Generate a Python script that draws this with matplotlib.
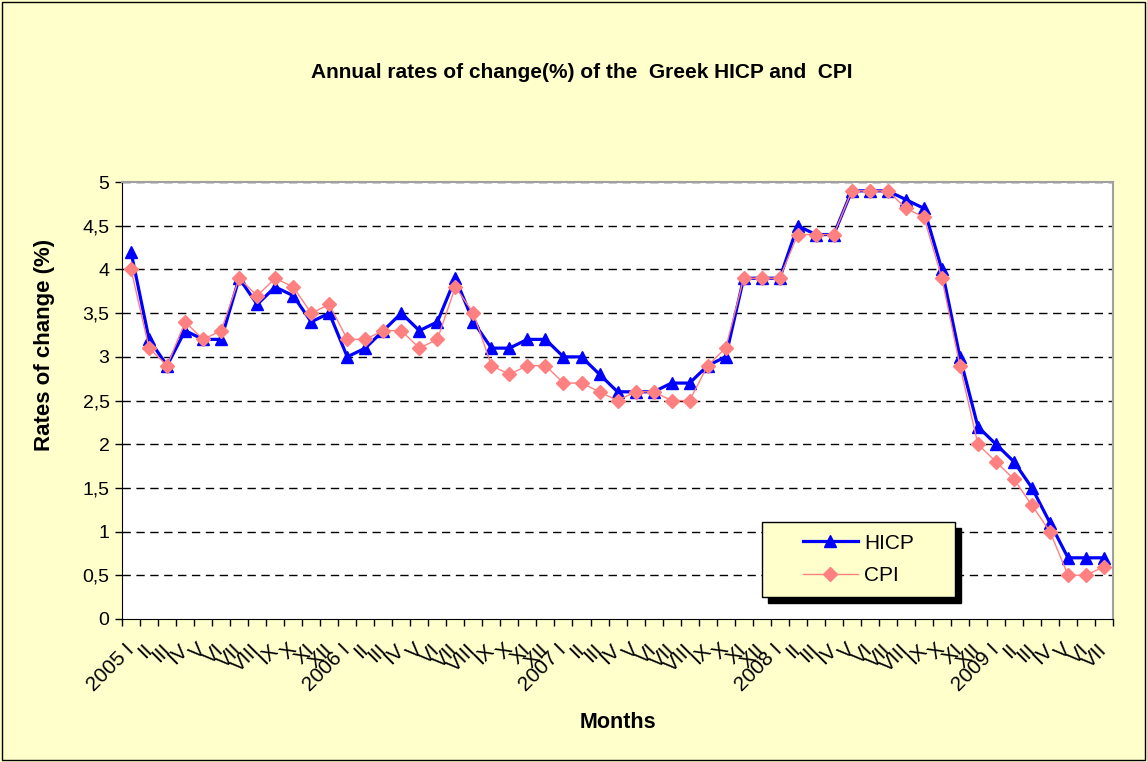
import matplotlib.pyplot as plt
import numpy as np
from matplotlib.patches import Rectangle

plt.rcParams['font.family'] = ['Liberation Sans', 'DejaVu Sans']

# months 2005 I .. 2009 VII
years = [2005, 2006, 2007, 2008, 2009]
roman = ["I", "II", "III", "IV", "V", "VI", "VII", "VIII", "IX", "X", "XI", "XII"]
month_labels = []
for y in years:
    for k, r in enumerate(roman):
        if y == 2009 and k > 6:
            break
        month_labels.append(f"{y} {r}" if k == 0 else r)

hicp = [4.2, 3.2, 2.9, 3.3, 3.2, 3.2, 3.9, 3.6, 3.8, 3.7, 3.4, 3.5,
        3.0, 3.1, 3.3, 3.5, 3.3, 3.4, 3.9, 3.4, 3.1, 3.1, 3.2, 3.2,
        3.0, 3.0, 2.8, 2.6, 2.6, 2.6, 2.7, 2.7, 2.9, 3.0, 3.9, 3.9,
        3.9, 4.5, 4.4, 4.4, 4.9, 4.9, 4.9, 4.8, 4.7, 4.0, 3.0, 2.2,
        2.0, 1.8, 1.5, 1.1, 0.7, 0.7, 0.7]
cpi = [4.0, 3.1, 2.9, 3.4, 3.2, 3.3, 3.9, 3.7, 3.9, 3.8, 3.5, 3.6,
       3.2, 3.2, 3.3, 3.3, 3.1, 3.2, 3.8, 3.5, 2.9, 2.8, 2.9, 2.9,
       2.7, 2.7, 2.6, 2.5, 2.6, 2.6, 2.5, 2.5, 2.9, 3.1, 3.9, 3.9,
       3.9, 4.4, 4.4, 4.4, 4.9, 4.9, 4.9, 4.7, 4.6, 3.9, 2.9, 2.0,
       1.8, 1.6, 1.3, 1.0, 0.5, 0.5, 0.6]
yticks = [0, 0.5, 1, 1.5, 2, 2.5, 3, 3.5, 4, 4.5, 5]

n = len(month_labels)
x = np.arange(n)

fig = plt.figure(figsize=(11.47, 7.62), dpi=100, facecolor="#FFFFCC")
ax = fig.add_axes([0.1064, 0.1877, 0.864, 0.5733])
ax.set_facecolor("white")

# outer chart border
fig.patches.append(Rectangle((0.0015, 0.002), 0.997, 0.996, transform=fig.transFigure,
                             fill=False, edgecolor="black", lw=1))

# grid
for v in yticks[1:]:
    ax.axhline(v, color="black", lw=1, ls=(0, (6, 4)), zorder=1)

ax.plot(x, hicp, color="#0000FF", lw=2.3, marker="^", ms=9, label="HICP", zorder=3)
ax.plot(x, cpi, color="#FF8080", lw=1, marker="D", ms=7.5, label="CPI", zorder=4)

ax.set_xlim(-0.5, n - 0.5)
ax.set_ylim(0, 5)
ax.set_yticks(yticks)
ax.set_yticklabels([f"{v:g}".replace(".", ",") for v in yticks], fontsize=14)
ax.tick_params(axis="y", direction="out", length=5, width=1, pad=4)

ax.set_xticks(x)
ax.set_xticklabels(month_labels, rotation=45, ha="right", va="center",
                   rotation_mode="anchor", fontsize=15)
ax.tick_params(axis="x", which="major", length=0, pad=20)
ax.set_xticks(np.arange(n + 1) - 0.5, minor=True)
ax.tick_params(axis="x", which="minor", direction="out", length=5, width=1)

for s in ["top", "right"]:
    ax.spines[s].set_color("#A0A0A0")
    ax.spines[s].set_linewidth(1.5)
ax.spines["left"].set_color("black")
ax.spines["bottom"].set_color("black")

fig.text(582 / 1147, 1 - 72 / 762, "Annual rates of change(%) of the  Greek HICP and  CPI",
         fontsize=15, fontweight="bold", ha="center", va="center")
fig.text(45 / 1147, 1 - 345 / 762, "Rates of change (%)", fontsize=16,
         fontweight="bold", rotation=90, ha="center", va="center")
fig.text(618 / 1147, 1 - 723 / 762, "Months", fontsize=15.5,
         fontweight="bold", ha="center", va="center")

# legend box with hard shadow
bx0, bx1, by0, by1 = 0.6458, 0.8406, 0.0503, 0.222
ax.add_patch(Rectangle((bx0 + 0.006, by0 - 0.013), bx1 - bx0, by1 - by0,
                       transform=ax.transAxes, facecolor="black", edgecolor="black",
                       zorder=5))
ax.add_patch(Rectangle((bx0, by0), bx1 - bx0, by1 - by0, transform=ax.transAxes,
                       facecolor="#FFFFCC", edgecolor="black", lw=1, zorder=6))
leg = ax.legend(loc="center", bbox_to_anchor=((bx0 + bx1) / 2, (by0 + by1) / 2),
                fontsize=15, frameon=False, handlelength=2.6, handletextpad=0.3,
                labelspacing=0.65, borderaxespad=0)
leg.set_zorder(7)

fig.savefig("out.png", dpi=100, facecolor=fig.get_facecolor())
